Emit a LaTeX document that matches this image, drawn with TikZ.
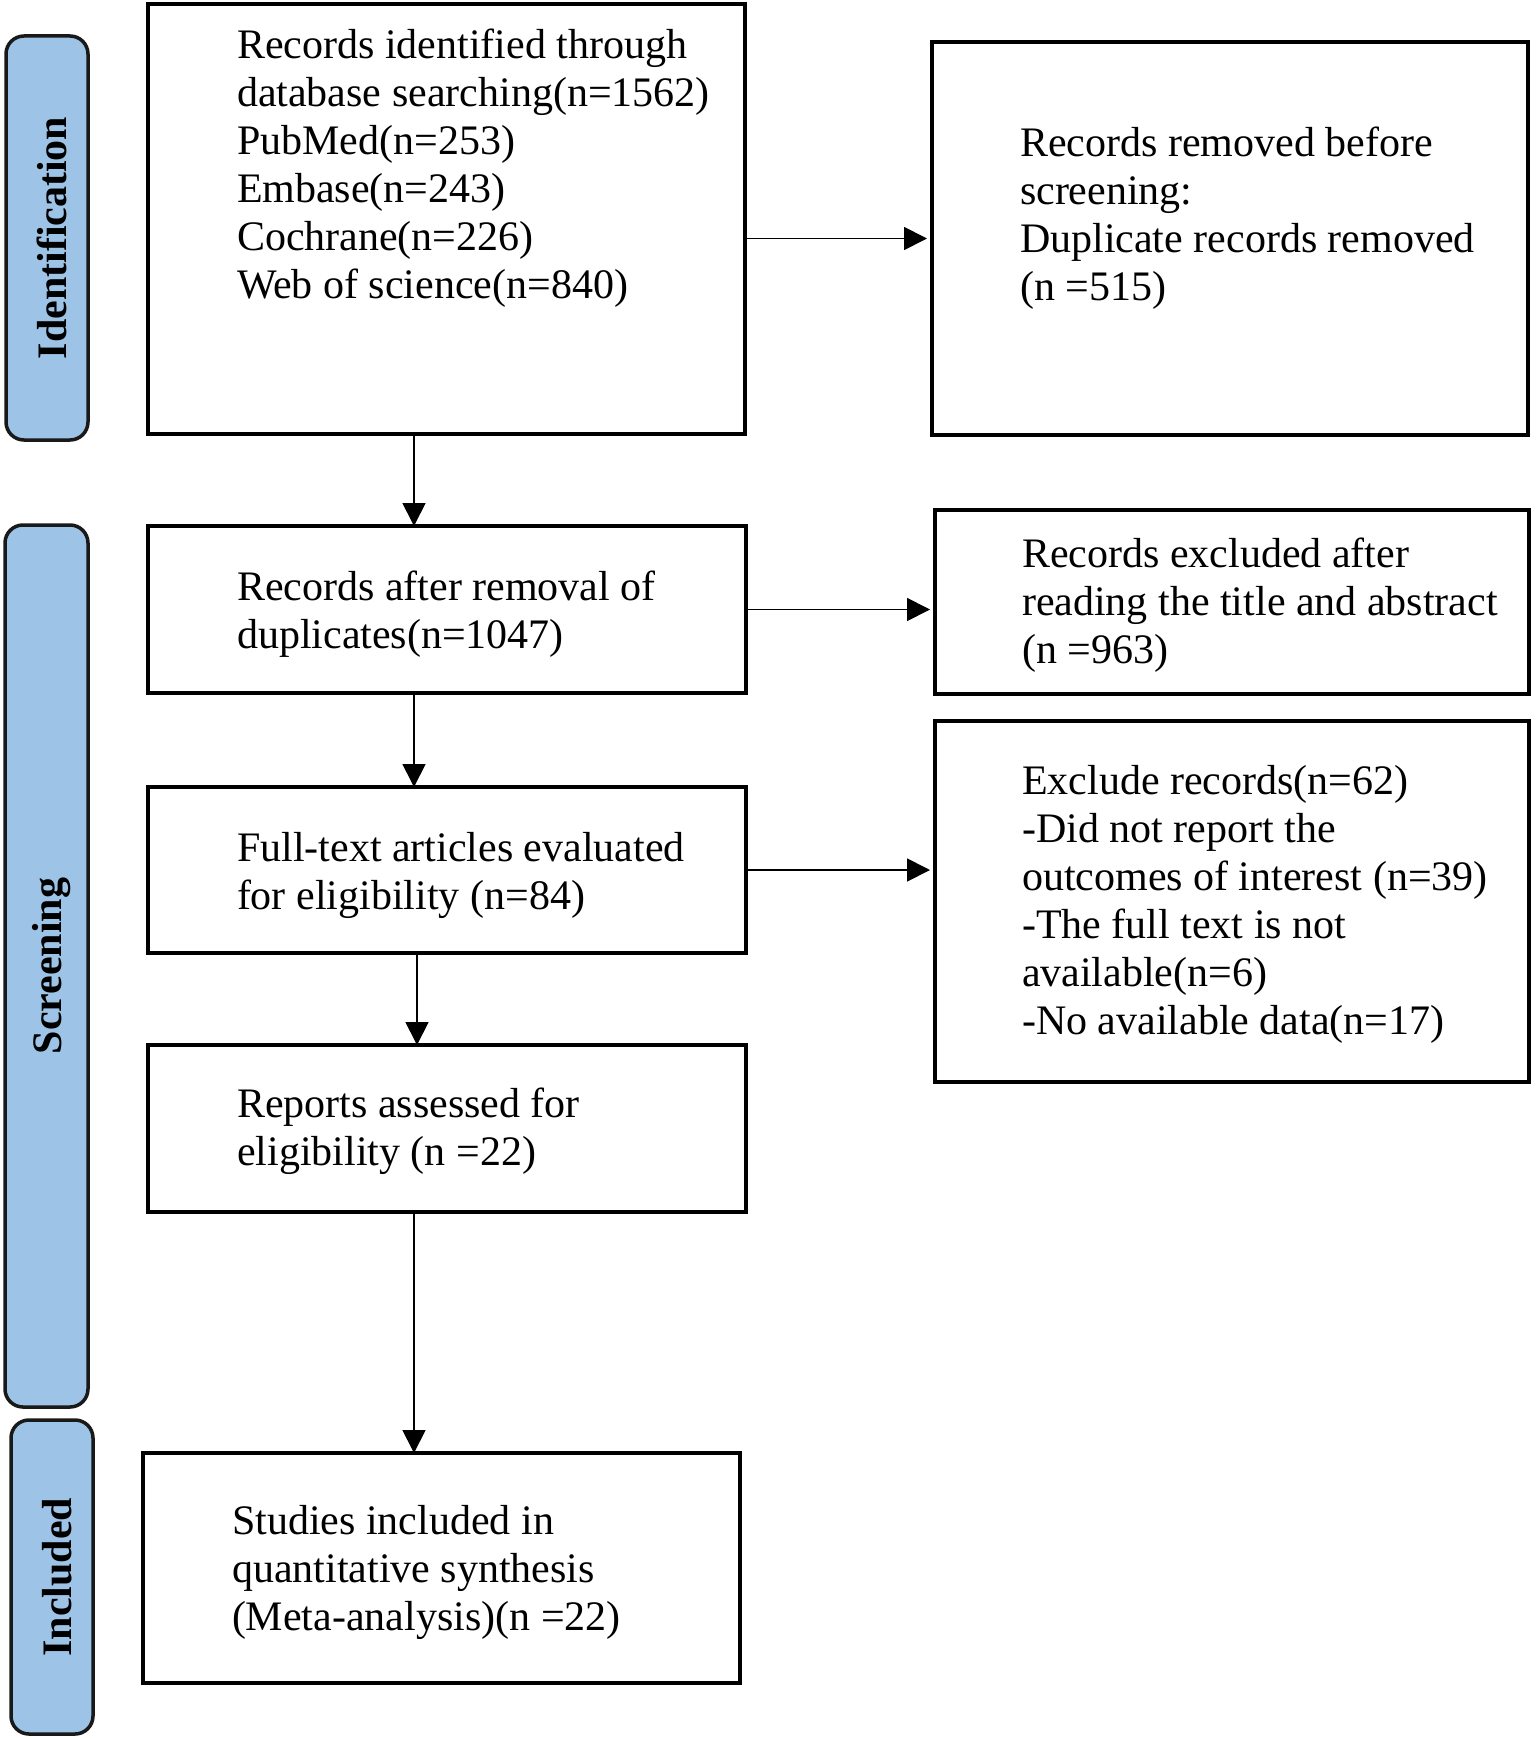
\documentclass[tikz,border=0pt]{standalone}
\usepackage{fontspec}
\setmainfont{Liberation Serif}
\usetikzlibrary{arrows.meta,calc}
\definecolor{labblue}{RGB}{157,195,230}
\newcommand{\mlines}[1]{\begin{tabular}[t]{@{}l@{}}#1\end{tabular}}
\begin{document}
\begin{tikzpicture}[x=1pt,y=-1pt,
  box/.style={draw=black,line width=3.5pt,fill=white,outer sep=0pt,inner sep=0pt},
  lab/.style={draw=black!90,line width=3.5pt,fill=labblue,rounded corners=18pt,outer sep=0pt,inner sep=0pt,
    font=\fontsize{42}{48}\selectfont\bfseries,rotate=90,text height=40pt},
  txt/.style={anchor=base west,inner sep=0pt,outer sep=0pt,font=\fontsize{42}{48}\selectfont},
  arr/.style={line width=1.8pt,-{Triangle[length=23pt,width=23pt]}},
  harr/.style={arr,shorten >=5pt}]
\useasboundingbox (0,0) rectangle (1535,1739);
% phase labels
\node[lab,minimum width=404pt,minimum height=82pt] (l1) at (47,238) {Identification};
\node[lab,minimum width=882pt,minimum height=83pt] (l2) at (46.5,966) {Screening};
\node[lab,minimum width=314pt,minimum height=82pt] (l3) at (52,1577) {Included};
% boxes
\node[box,minimum width=597pt,minimum height=430pt] (b1) at (446.5,219) {};
\node[box,minimum width=596pt,minimum height=393pt] (b2) at (1230,238.5) {};
\node[box,minimum width=598pt,minimum height=167pt] (b3) at (447,609.5) {};
\node[box,minimum width=594pt,minimum height=184pt] (re) at (1232,602) {};
\node[box,minimum width=598pt,minimum height=166pt] (b4) at (447,870) {};
\node[box,minimum width=594pt,minimum height=361pt] (ex) at (1232,901.5) {};
\node[box,minimum width=598pt,minimum height=167pt] (b5) at (447,1128.5) {};
\node[box,minimum width=597pt,minimum height=230pt] (b6) at (441.5,1568) {};
% texts
\node[txt] (t1) at (237,59) {\mlines{Records identified through\\database searching(n=1562)\\PubMed(n=253)\\Embase(n=243)\\Cochrane(n=226)\\Web of science(n=840)}};
\node[txt] (t2) at (1020,157) {\mlines{Records removed before\\screening:\\Duplicate records removed\\(n =515)}};
\node[txt] (t3) at (237,600) {\mlines{Records after removal of\\duplicates(n=1047)}};
\node[txt] (tre) at (1022,567) {\mlines{Records excluded after\\reading the title and abstract\\(n =963)}};
\node[txt] (t4) at (237,861) {\mlines{Full-text articles evaluated\\for eligibility (n=84)}};
\node[txt] (tex) at (1022,794) {\mlines{Exclude records(n=62)\\-Did not report the\\outcomes of interest (n=39)\\-The full text is not\\available(n=6)\\-No available data(n=17)}};
\node[txt] (t5) at (237,1117) {\mlines{Reports assessed for\\eligibility (n =22)}};
\node[txt] (t6) at (232,1534) {\mlines{Studies included in\\quantitative synthesis\\(Meta-analysis)(n =22)}};
% connectors
\coordinate (ax) at (414,0);
\coordinate (ax2) at (417,0);
\draw[harr] (b1.east |- b2.west) -- (b2.west);
\draw[harr] (b3.east) -- (b3.east -| re.west);
\draw[harr] (b4.east) -- (b4.east -| ex.west);
\draw[arr] (b1.south -| ax) -- (b3.north -| ax);
\draw[arr] (b3.south -| ax) -- (b4.north -| ax);
\draw[arr] (b4.south -| ax2) -- (b5.north -| ax2);
\draw[arr] (b5.south -| ax) -- (b6.north -| ax);
\end{tikzpicture}
\end{document}
